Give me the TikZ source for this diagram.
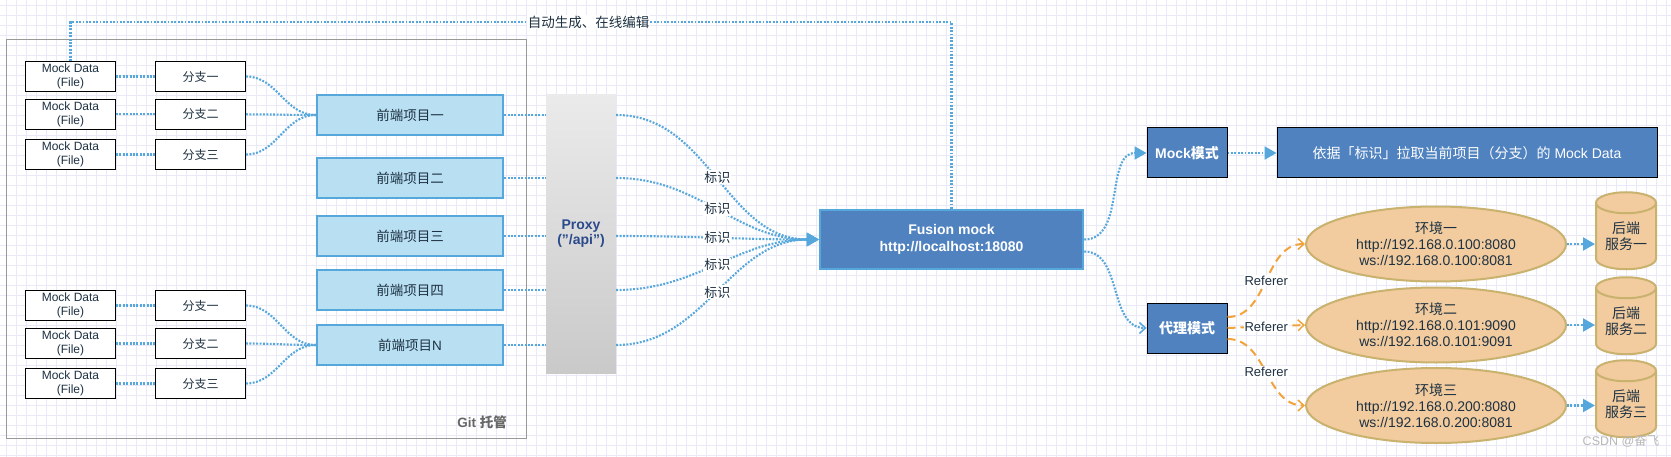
\documentclass[tikz,border=0pt]{standalone}
\usepackage{fontspec}
\setmainfont{Liberation Sans}
\newfontfamily\cjk{Noto Sans CJK SC}
\newcommand{\zh}[1]{{\cjk #1}}
\usetikzlibrary{arrows.meta,shapes.geometric}
\definecolor{gridc}{RGB}{233,233,247}
\definecolor{flowblue}{HTML}{55A7DC}
\definecolor{frontfill}{HTML}{B8E0F2}
\definecolor{modefill}{HTML}{4F82BF}
\definecolor{peach}{HTML}{F2CC9F}
\definecolor{tan}{HTML}{C9B26E}
\definecolor{refcol}{HTML}{F2A33A}
\definecolor{textc}{HTML}{1E3142}
\definecolor{proxytext}{HTML}{2B4A8B}
\begin{document}
\begin{tikzpicture}[x=1pt,y=-1pt,
  gridline/.style={draw=gridc,line width=0.8pt},
  gitbox/.style={draw=black!40,line width=1pt,minimum width=520pt,minimum height=399pt,inner sep=0pt},
  gitlabel/.style={text=black!60,font=\fontsize{13.5}{16}\selectfont\bfseries,inner sep=0pt},
  datafile/.style={draw=black,fill=white,line width=1pt,minimum width=90pt,minimum height=30pt,inner sep=0pt,align=center,text=textc,font=\fontsize{12}{14}\selectfont},
  branch/.style={datafile,font=\fontsize{12}{14}\selectfont},
  front/.style={draw=flowblue,fill=frontfill,line width=2.5pt,minimum width=186pt,minimum height=40pt,inner sep=0pt,text=textc,font=\fontsize{13.5}{16}\selectfont},
  proxy/.style={top color=black!8,bottom color=black!21,draw=none,minimum width=70pt,minimum height=278pt,inner sep=0pt,align=center,text=proxytext,font=\fontsize{14}{15}\selectfont\bfseries},
  fusion/.style={draw=flowblue,fill=modefill,line width=2.5pt,minimum width=263pt,minimum height=59pt,inner sep=0pt,align=center,text=white,font=\fontsize{14}{17}\selectfont\bfseries},
  mode/.style={draw=black,fill=modefill,line width=1pt,minimum width=80pt,minimum height=50pt,inner sep=0pt,text=white,font=\fontsize{14}{16}\selectfont\bfseries},
  pullbox/.style={mode,minimum width=380pt,font=\fontsize{14}{16}\selectfont},
  env/.style={ellipse,draw=tan,fill=peach,line width=2pt,minimum width=260pt,minimum height=75pt,inner sep=0pt,align=center,text=textc,font=\fontsize{14}{16}\selectfont},
  backend/.style={cylinder,shape border rotate=90,aspect=0.5,draw=tan,fill=peach,line width=2pt,minimum width=60pt,minimum height=77pt,inner sep=0pt,align=center,text=textc,font=\fontsize{14}{16}\selectfont},
  tag/.style={fill=white,inner sep=1pt,text=textc,font=\fontsize{13}{15}\selectfont},
  note/.style={fill=white,inner sep=1pt,text=textc,font=\fontsize{13.5}{15}\selectfont},
  wm/.style={text=black!28,inner sep=0pt,font=\fontsize{12.5}{14}\selectfont},
  flow/.style={draw=flowblue,line width=2.1pt,dash pattern=on 1.9pt off 1.5pt},
  tipflow/.style={flow,-{Triangle[length=12pt,width=13pt]}},
  openflow/.style={flow,-{Straight Barb[length=6pt,width=11pt,line width=1.5pt]}},
  referer/.style={draw=refcol,line width=2pt,dash pattern=on 8pt off 5pt,-{Straight Barb[length=6pt,width=11pt,line width=1.5pt]}}]
  \useasboundingbox (0,0) rectangle (1671,457);
  \fill[white] (0,0) rectangle (1671,457);
  \foreach \gx in {6,16,...,1666} \draw[gridline] (\gx,0) -- (\gx,457);
  \foreach \gy in {5,15,...,455} \draw[gridline] (0,\gy) -- (1671,\gy);

  \node[gitbox] (git) at (266.4,239.4) {};
  \node[gitlabel] (gittxt) at (482,422) {Git \zh{托管}};

  \node[datafile] (md1) at (70.5,76.5) {Mock Data\\(File)};
  \node[datafile] (md2) at (70.5,114.3) {Mock Data\\(File)};
  \node[datafile] (md3) at (70.5,154.5) {Mock Data\\(File)};
  \node[datafile] (md4) at (70.5,305.5) {Mock Data\\(File)};
  \node[datafile] (md5) at (70.5,343.5) {Mock Data\\(File)};
  \node[datafile] (md6) at (70.5,383.5) {Mock Data\\(File)};

  \node[branch] (br1) at (200.5,76.5) {\zh{分支一}};
  \node[branch] (br2) at (200.5,114.3) {\zh{分支二}};
  \node[branch] (br3) at (200.5,154.5) {\zh{分支三}};
  \node[branch] (br4) at (200.5,305.5) {\zh{分支一}};
  \node[branch] (br5) at (200.5,343.5) {\zh{分支二}};
  \node[branch] (br6) at (200.5,383.5) {\zh{分支三}};

  \node[front] (fe1) at (410,115) {\zh{前端项目一}};
  \node[front] (fe2) at (410,178) {\zh{前端项目二}};
  \node[front] (fe3) at (410,236) {\zh{前端项目三}};
  \node[front] (fe4) at (410,290) {\zh{前端项目四}};
  \node[front] (feN) at (410,345) {\zh{前端项目}N};

  \node[proxy] (proxy) at (581,234) {Proxy\\("/api")};
  \node[fusion] (fusion) at (951.5,239.5) {Fusion mock\\http://localhost:18080};
  \coordinate (autoturn) at (951.5,22);

  \node[mode] (mockmode) at (1187,153) {Mock\zh{模式}};
  \node[pullbox] (pull) at (1467,153) {\zh{依据「标识」拉取当前项目（分支）的} Mock Data};
  \node[mode] (proxymode) at (1187,328) {\zh{代理模式}};

  \node[env] (env1) at (1436,244) {\zh{环境一}\\http://192.168.0.100:8080\\ws://192.168.0.100:8081};
  \node[env] (env2) at (1436,325) {\zh{环境二}\\http://192.168.0.101:9090\\ws://192.168.0.101:9091};
  \node[env] (env3) at (1436,405.5) {\zh{环境三}\\http://192.168.0.200:8080\\ws://192.168.0.200:8081};

  \node[backend] (svc1) at (1626,236.5) {\zh{后端}\\\zh{服务一}};
  \node[backend] (svc2) at (1626,321.5) {\zh{后端}\\\zh{服务二}};
  \node[backend] (svc3) at (1626,404.5) {\zh{后端}\\\zh{服务三}};

  \node[wm] (csdn) at (1621,441) {CSDN @\zh{奋飞}};

  \begin{scope}[flow]
    \draw (md1.east) -- (br1.west);
    \draw (md2.east) -- (br2.west);
    \draw (md3.east) -- (br3.west);
    \draw (md4.east) -- (br4.west);
    \draw (md5.east) -- (br5.west);
    \draw (md6.east) -- (br6.west);
    \draw (br1.east) to[out=0,in=180] (fe1.west);
    \draw (br2.east) to[out=0,in=180] (fe1.west);
    \draw (br3.east) to[out=0,in=180] (fe1.west);
    \draw (br4.east) to[out=0,in=180] (feN.west);
    \draw (br5.east) to[out=0,in=180] (feN.west);
    \draw (br6.east) to[out=0,in=180] (feN.west);
    \draw (fe1.east) -- (fe1.east -| proxy.west);
    \draw (fe2.east) -- (fe2.east -| proxy.west);
    \draw (fe3.east) -- (fe3.east -| proxy.west);
    \draw (fe4.east) -- (fe4.east -| proxy.west);
    \draw (feN.east) -- (feN.east -| proxy.west);
    \draw (md1.north) |- node[note,pos=0.794] {\zh{自动生成、在线编辑}} (autoturn) -- (fusion.north);
  \end{scope}
  \draw[tipflow] (fe1.east -| proxy.east) to[out=0,in=180] node[tag] {\zh{标识}} (fusion.west);
  \draw[tipflow] (fe2.east -| proxy.east) to[out=0,in=180] node[tag] {\zh{标识}} (fusion.west);
  \draw[tipflow] (fe3.east -| proxy.east) to[out=0,in=180] node[tag] {\zh{标识}} (fusion.west);
  \draw[tipflow] (fe4.east -| proxy.east) to[out=0,in=180] node[tag] {\zh{标识}} (fusion.west);
  \draw[tipflow] (feN.east -| proxy.east) to[out=0,in=180] node[tag] {\zh{标识}} (fusion.west);
  \draw[tipflow] (fusion.east) to[out=0,in=180] (mockmode.west);
  \draw[openflow] ([yshift=-12pt]fusion.east) to[out=0,in=180] (proxymode.west);
  \draw[tipflow] (mockmode.east) -- (pull.west);
  \draw[referer] ([yshift=11pt]proxymode.east) to[out=0,in=180] node[tag] {Referer} (env1.west);
  \draw[referer] (proxymode.east) -- node[tag] {Referer} (env2.west);
  \draw[referer] ([yshift=-11pt]proxymode.east) to[out=0,in=180] node[tag] {Referer} (env3.west);
  \draw[tipflow] (env1.east) -- (env1.east -| svc1.west);
  \draw[tipflow] (env2.east) -- (env2.east -| svc2.west);
  \draw[tipflow] (env3.east) -- (env3.east -| svc3.west);
\end{tikzpicture}
\end{document}
